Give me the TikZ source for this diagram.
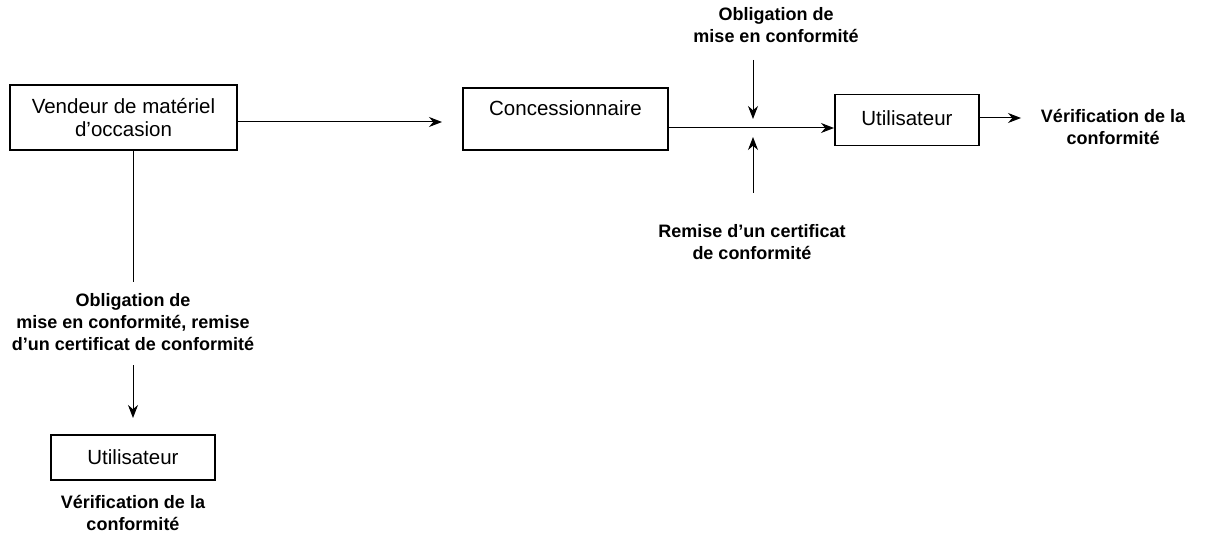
\documentclass[tikz,border=0pt]{standalone}
\usepackage{fontspec}
\setmainfont{Liberation Sans}
\usetikzlibrary{arrows.meta}
\begin{document}
\begin{tikzpicture}[x=1pt,y=-1pt,
  box/.style={draw,line width=1.2pt,inner sep=0pt,font=\fontsize{20.5}{23}\selectfont},
  lbl/.style={font=\fontsize{18}{22}\selectfont\bfseries,align=center,inner sep=0pt},
  arr/.style={-{Stealth[length=13pt,width=10pt]},line width=1pt}]
\useasboundingbox (0,0) rectangle (1224,540);
\node[box,minimum width=227pt,minimum height=65pt,align=center] (v) at (123.5,117.5) {Vendeur de matériel\\d’occasion};
\node[box,minimum width=205pt,minimum height=62pt] (c) at (565.5,119) {};
\node[font=\fontsize{20.5}{23}\selectfont] (ct) at (565.5,108) {Concessionnaire};
\node[box,minimum width=144pt,minimum height=51pt] (u1) at (907,120) {};
\node[font=\fontsize{20.5}{23}\selectfont] (u1t) at (907,118) {Utilisateur};
\node[box,minimum width=164pt,minimum height=45pt] (u2) at (133,457.5) {Utilisateur};
\node[lbl] (l1) at (776,25) {Obligation de\\mise en conformité};
\node[lbl] (l2) at (1113,127) {Vérification de la\\conformité};
\node[lbl] (l3) at (752,242) {Remise d’un certificat\\de conformité};
\node[lbl] (l4) at (133,322) {Obligation de\\mise en conformité, remise\\d’un certificat de conformité};
\node[lbl] (l5) at (133,513) {Vérification de la\\conformité};
\coordinate (a1) at (237,122); \coordinate (a2) at (442,122);
\draw[arr] (a1) -- (a2);
\coordinate (b1) at (668,128); \coordinate (b2) at (834,128);
\draw[arr] (b1) -- (b2);
\coordinate (d1) at (753,60); \coordinate (d2) at (753,119);
\draw[arr] (d1) -- (d2);
\coordinate (e1) at (753,193); \coordinate (e2) at (753,137);
\draw[arr] (e1) -- (e2);
\coordinate (f1) at (979,118); \coordinate (f2) at (1021,118);
\draw[arr] (f1) -- (f2);
\coordinate (g1) at (133,150); \coordinate (g2) at (133,282);
\draw[line width=1pt] (g1) -- (g2);
\coordinate (h1) at (133,365); \coordinate (h2) at (133,418);
\draw[arr] (h1) -- (h2);
\end{tikzpicture}
\end{document}
